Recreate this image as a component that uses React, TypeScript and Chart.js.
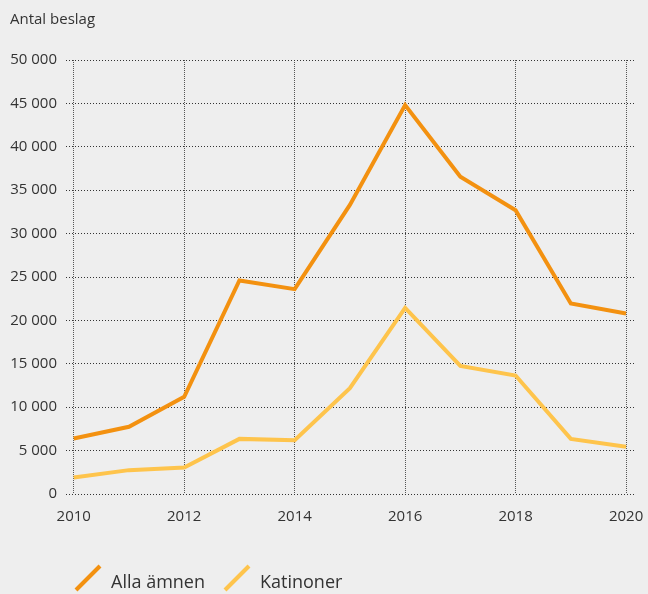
import React, { useEffect, useRef } from "react";
import { Chart, registerables } from "chart.js";

Chart.register(...registerables);

const years = [2010, 2011, 2012, 2013, 2014, 2015, 2016, 2017, 2018, 2019, 2020];
const allaAmnen = [6400, 7750, 11200, 24600, 23600, 33300, 44800, 36550, 32700, 21950, 20800];
const katinoner = [1900, 2750, 3050, 6350, 6200, 12200, 21450, 14750, 13650, 6350, 5450];
const xTickYears = [2010, 2012, 2014, 2016, 2018, 2020];
const seriesNames = ["Alla ämnen", "Katinoner"];
const seriesColors = ["#F39110", "#FEC44C"];
const yAxisTitle = "Antal beslag";

const FONT = "'Open Sans', sans-serif";

const fmt = (v: number) => {
  const s = String(Math.round(v));
  return s.replace(/\B(?=(\d{3})+(?!\d))/g, " ");
};

const overlayPlugin = {
  id: "overlay",
  afterDraw(chart: any) {
    const ctx = chart.ctx;
    ctx.save();
    ctx.fillStyle = "#333333";
    ctx.font = `15px ${FONT}`;
    ctx.textAlign = "left";
    ctx.textBaseline = "alphabetic";
    ctx.fillText(yAxisTitle, 10, 24);

    // legend
    const items = chart.data.datasets;
    let x = 76;
    const baseY = 588;
    ctx.font = `18px ${FONT}`;
    items.forEach((ds: any) => {
      ctx.strokeStyle = ds.borderColor;
      ctx.lineWidth = 4;
      ctx.lineCap = "butt";
      ctx.beginPath();
      ctx.moveTo(x, 590);
      ctx.lineTo(x + 24, 566);
      ctx.stroke();
      ctx.fillStyle = "#333333";
      ctx.fillText(ds.label, x + 35, baseY);
      const w = ctx.measureText(ds.label).width;
      x = x + 35 + w + 20;
    });
    ctx.restore();
  },
};

export default function App() {
  const ref = useRef<HTMLCanvasElement | null>(null);
  useEffect(() => {
    if (!ref.current) return;
    const chart = new Chart(ref.current, {
      type: "line",
      data: {
        datasets: [allaAmnen, katinoner].map((vals, i) => ({
          label: seriesNames[i],
          data: years.map((y, j) => ({ x: y, y: vals[j] })),
          borderColor: seriesColors[i],
          backgroundColor: seriesColors[i],
          borderWidth: 4,
          pointRadius: 0,
          tension: 0,
          borderJoinStyle: "miter" as const,
          borderCapStyle: "butt" as const,
          fill: false,
        })),
      },
      options: {
        responsive: false,
        animation: false,
        layout: { padding: { top: 60, right: 12, left: 0, bottom: 0 } },
        plugins: {
          legend: { display: false },
          tooltip: { enabled: false },
          title: { display: false },
        },
        scales: {
          x: {
            type: "linear",
            min: 2009.86,
            max: 2020.18,
            afterBuildTicks: (s: any) => {
              s.ticks = xTickYears.map((v) => ({ value: v }));
            },
            afterFit: (s: any) => {
              s.height = 100;
              s.paddingLeft = 0;
              s.paddingRight = 0;
            },
            ticks: {
              autoSkip: false,
              maxRotation: 0,
              padding: 14,
              color: "#333333",
              font: { family: FONT, size: 15 },
              callback: (v: any) => String(v),
            },
            grid: { drawTicks: false, color: "#555555", lineWidth: 1 },
            border: { display: false, dash: [1, 1] },
          },
          y: {
            min: 0,
            max: 50000,
            afterFit: (s: any) => {
              s.width = 66;
              s.paddingTop = 0;
              s.paddingBottom = 0;
            },
            ticks: {
              stepSize: 5000,
              padding: 9,
              color: "#333333",
              font: { family: FONT, size: 15 },
              callback: (v: any) => fmt(Number(v)),
            },
            grid: { drawTicks: false, color: "#333333", lineWidth: 1 },
            border: { display: false, dash: [1, 2] },
          },
        },
      },
      plugins: [overlayPlugin],
    });
    return () => chart.destroy();
  }, []);
  return (
    <div
      style={{
        position: "absolute",
        left: 0,
        top: 0,
        width: 648,
        height: 594,
        background: "#eeeeee",
      }}
    >
      <canvas ref={ref} width={648} height={594} style={{ display: "block" }} />
    </div>
  );
}
